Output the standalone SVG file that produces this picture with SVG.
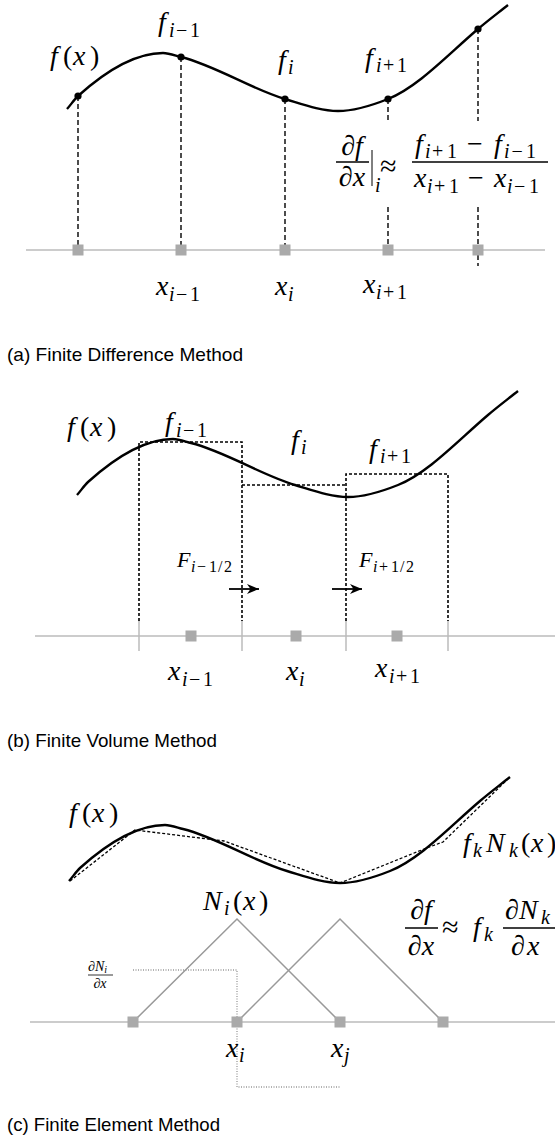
<svg xmlns="http://www.w3.org/2000/svg" xmlns:xlink="http://www.w3.org/1999/xlink" width="555" height="1139" viewBox="0 0 555 1139">
<style>
.m{font-family:"Liberation Serif","DejaVu Serif",serif;font-size:28px;fill:#000}
.it{font-style:italic}
.s{font-size:20px}
.cap{font-family:"Liberation Sans","DejaVu Sans",sans-serif;font-size:19px;fill:#000}
.curve{fill:none;stroke:#000;stroke-width:2.4;stroke-linejoin:round}
.axis{stroke:#bbb;stroke-width:1.5}
.node{fill:#aaa}
.dash{stroke:#000;stroke-width:1.4;stroke-dasharray:5 3;fill:none}
.dot{stroke:#000;stroke-width:1.6;stroke-dasharray:3 2;fill:none}
.pl{stroke:#000;stroke-width:1.3;stroke-dasharray:3 2;fill:none}
.tick{stroke:#bbb;stroke-width:1.5}
.tri{stroke:#999;stroke-width:1.5;fill:none}
.gdot{stroke:#999;stroke-width:1.3;stroke-dasharray:1 1.5;fill:none}
.bar{stroke:#000;stroke-width:1.3}
.arr{stroke:#000;stroke-width:1.8;fill:none}
</style>
<defs>
<path id="fcurve" d="M67,109 C70.7,105 74.3,99.3 78,96 C106.3,70.5 134.7,53 163,53 C169,53 175,55.5 181,57 C215.7,65.7 250.3,88.6 285,99 C302.7,104.3 320.3,111 338,111 C354.7,111 371.3,105.7 388,99 C418,87 448,54.5 478,29 C488,20.5 498,13 508,5"/>
<marker id="ah" markerWidth="13" markerHeight="11" refX="12" refY="5.5" orient="auto" markerUnits="userSpaceOnUse">
<path d="M0,0.5 L12,5.5 L0,10.5 L3.5,5.5 Z" fill="#000"/>
</marker>
<rect id="sq" x="-5.5" y="-5.5" width="11" height="11" class="node"/>
</defs>

<!-- Panel (a) -->
<g id="panel-a">
<line id="a-axis" x1="26" y1="250" x2="545" y2="250" class="axis"/>
<g id="a-connectors">
<line x1="78" y1="96" x2="78" y2="250" class="dash"/>
<line x1="181" y1="57" x2="181" y2="250" class="dash"/>
<line x1="285" y1="99" x2="285" y2="250" class="dash"/>
<line x1="388" y1="99" x2="388" y2="121" class="dash"/>
<line x1="388" y1="207" x2="388" y2="250" class="dash"/>
<line x1="478" y1="29" x2="478" y2="121" class="dash"/>
<line x1="478" y1="207" x2="478" y2="266" class="dash"/>
</g>
<g id="a-nodes">
<use xlink:href="#sq" x="78" y="250"/>
<use xlink:href="#sq" x="181" y="250"/>
<use xlink:href="#sq" x="285" y="250"/>
<use xlink:href="#sq" x="388" y="250"/>
<use xlink:href="#sq" x="478" y="250"/>
</g>
<use id="a-curve" xlink:href="#fcurve" class="curve"/>
<g id="a-points">
<circle cx="78" cy="96" r="3.6"/>
<circle cx="181" cy="57" r="3.6"/>
<circle cx="285" cy="99" r="3.6"/>
<circle cx="388" cy="99" r="3.6"/>
<circle cx="478" cy="29" r="3.6"/>
</g>
<g id="a-labels" class="m">
<text><tspan class="it" x="50" y="65">f</tspan><tspan x="63" y="65">(</tspan><tspan class="it" x="73" y="65">x</tspan><tspan x="90" y="65">)</tspan></text>
<text><tspan class="it" x="158" y="31">f</tspan><tspan class="s it" x="169" y="37">i</tspan><tspan class="s" x="176" y="37">−</tspan><tspan class="s" x="190" y="37">1</tspan></text>
<text><tspan class="it" x="278" y="69">f</tspan><tspan class="s it" x="288" y="74">i</tspan></text>
<text><tspan class="it" x="365" y="67">f</tspan><tspan class="s it" x="376" y="72">i</tspan><tspan class="s" x="383" y="72">+</tspan><tspan class="s" x="397" y="72">1</tspan></text>
<text><tspan class="it" x="156" y="295">x</tspan><tspan class="s it" x="169" y="301">i</tspan><tspan class="s" x="176" y="301">−</tspan><tspan class="s" x="190" y="301">1</tspan></text>
<text><tspan class="it" x="275" y="295">x</tspan><tspan class="s it" x="288" y="301">i</tspan></text>
<text><tspan class="it" x="363" y="293">x</tspan><tspan class="s it" x="376" y="299">i</tspan><tspan class="s" x="383" y="299">+</tspan><tspan class="s" x="397" y="299">1</tspan></text>
</g>
<g id="a-formula" class="m">
<text x="352" y="155" text-anchor="middle">∂<tspan class="it">f</tspan></text>
<line x1="336" y1="162" x2="369" y2="162" class="bar"/>
<text x="352" y="186" text-anchor="middle">∂<tspan class="it">x</tspan></text>
<line x1="372" y1="150" x2="372" y2="186" stroke="#000" stroke-width="1"/>
<text class="s it" x="375" y="192">i</text>
<text x="380" y="176" style="font-size:30px">≈</text>
<text><tspan class="it" x="415" y="153">f</tspan><tspan class="s it" x="425" y="158">i</tspan><tspan class="s" x="432" y="158">+</tspan><tspan class="s" x="447" y="158">1</tspan><tspan x="467" y="153">−</tspan><tspan class="it" x="494" y="153">f</tspan><tspan class="s it" x="504" y="158">i</tspan><tspan class="s" x="511.5" y="158">−</tspan><tspan class="s" x="526" y="158">1</tspan></text>
<line x1="412" y1="162" x2="548" y2="162" class="bar"/>
<text><tspan class="it" x="414" y="187">x</tspan><tspan class="s it" x="427" y="193">i</tspan><tspan class="s" x="434" y="193">+</tspan><tspan class="s" x="449" y="193">1</tspan><tspan x="468" y="187">−</tspan><tspan class="it" x="494" y="187">x</tspan><tspan class="s it" x="507" y="193">i</tspan><tspan class="s" x="514" y="193">−</tspan><tspan class="s" x="529" y="193">1</tspan></text>
</g>
<text id="a-caption" class="cap" x="7" y="361" textLength="236" lengthAdjust="spacingAndGlyphs">(a) Finite Difference Method</text>
</g>

<!-- Panel (b) -->
<g id="panel-b">
<line id="b-axis" x1="35" y1="636" x2="555" y2="636" class="axis"/>
<g id="b-ticks">
<line x1="139" y1="620" x2="139" y2="651" class="tick"/>
<line x1="242" y1="620" x2="242" y2="651" class="tick"/>
<line x1="346" y1="620" x2="346" y2="651" class="tick"/>
<line x1="448" y1="620" x2="448" y2="651" class="tick"/>
</g>
<g id="b-connectors">
<path d="M139,621 V442 H242 V621 M242,485 H346 M346,621 V474 H448 V621" class="dot"/>
<line x1="229" y1="589" x2="259" y2="589" class="arr" marker-end="url(#ah)"/>
<line x1="332" y1="589" x2="362" y2="589" class="arr" marker-end="url(#ah)"/>
</g>
<g id="b-nodes">
<use xlink:href="#sq" x="191" y="636"/>
<use xlink:href="#sq" x="296" y="636"/>
<use xlink:href="#sq" x="397" y="636"/>
</g>
<use id="b-curve" xlink:href="#fcurve" class="curve" transform="translate(10,386)"/>
<g id="b-labels" class="m">
<text><tspan class="it" x="67" y="436">f</tspan><tspan x="80" y="436">(</tspan><tspan class="it" x="90" y="436">x</tspan><tspan x="107" y="436">)</tspan></text>
<text><tspan class="it" x="165" y="431">f</tspan><tspan class="s it" x="176" y="437">i</tspan><tspan class="s" x="183" y="437">−</tspan><tspan class="s" x="197" y="437">1</tspan></text>
<text><tspan class="it" x="291" y="449">f</tspan><tspan class="s it" x="301" y="454">i</tspan></text>
<text><tspan class="it" x="369" y="458">f</tspan><tspan class="s it" x="380" y="463">i</tspan><tspan class="s" x="387" y="463">+</tspan><tspan class="s" x="401" y="463">1</tspan></text>
<text style="font-size:22px"><tspan class="it" x="177" y="567">F</tspan><tspan class="it" style="font-size:16px" x="191" y="572">i</tspan><tspan style="font-size:16px" x="197" y="572">−</tspan><tspan style="font-size:16px" x="209" y="572">1</tspan><tspan style="font-size:16px" x="218" y="572">/</tspan><tspan style="font-size:16px" x="224" y="572">2</tspan></text>
<text style="font-size:22px"><tspan class="it" x="359" y="567">F</tspan><tspan class="it" style="font-size:16px" x="373" y="572">i</tspan><tspan style="font-size:16px" x="379" y="572">+</tspan><tspan style="font-size:16px" x="391" y="572">1</tspan><tspan style="font-size:16px" x="400" y="572">/</tspan><tspan style="font-size:16px" x="406" y="572">2</tspan></text>
<text><tspan class="it" x="168" y="680">x</tspan><tspan class="s it" x="182" y="686">i</tspan><tspan class="s" x="189" y="686">−</tspan><tspan class="s" x="203" y="686">1</tspan></text>
<text><tspan class="it" x="286" y="680">x</tspan><tspan class="s it" x="299" y="686">i</tspan></text>
<text><tspan class="it" x="375" y="677">x</tspan><tspan class="s it" x="389" y="683">i</tspan><tspan class="s" x="396" y="683">+</tspan><tspan class="s" x="410" y="683">1</tspan></text>
</g>
<text id="b-caption" class="cap" x="7" y="747" textLength="210" lengthAdjust="spacingAndGlyphs">(b) Finite Volume Method</text>
</g>

<!-- Panel (c) -->
<g id="panel-c">
<line id="c-axis" x1="30" y1="1022" x2="555" y2="1022" class="axis"/>
<g id="c-connectors">
<path d="M133,1022 L237,919 L340,1022" class="tri"/>
<path d="M237,1022 L340,919 L443,1022" class="tri"/>
<path d="M133,970 H237 V1087 H340" class="gdot"/>
</g>
<g id="c-nodes">
<use xlink:href="#sq" x="133" y="1022"/>
<use xlink:href="#sq" x="237" y="1022"/>
<use xlink:href="#sq" x="340" y="1022"/>
<use xlink:href="#sq" x="443" y="1022"/>
</g>
<use id="c-curve" xlink:href="#fcurve" class="curve" transform="translate(2,772)"/>
<polyline id="c-interp" points="70,881 135,830 224,841 340,883 424,849 443,842 510,777" class="pl"/>
<g id="c-labels" class="m">
<text><tspan class="it" x="69" y="822">f</tspan><tspan x="82" y="822">(</tspan><tspan class="it" x="92" y="822">x</tspan><tspan x="109" y="822">)</tspan></text>
<text><tspan class="it" x="463" y="852">f</tspan><tspan class="s it" x="473" y="857">k</tspan><tspan class="it" x="486" y="852">N</tspan><tspan class="s it" x="509" y="857">k</tspan><tspan x="521" y="852">(</tspan><tspan class="it" x="531" y="852">x</tspan><tspan x="547" y="852">)</tspan></text>
<text><tspan class="it" x="203" y="910">N</tspan><tspan class="s it" x="224" y="915">i</tspan><tspan x="233" y="910">(</tspan><tspan class="it" x="243" y="910">x</tspan><tspan x="259" y="910">)</tspan></text>
<text style="font-size:14px" x="88" y="971">∂<tspan class="it">N</tspan><tspan class="it" style="font-size:10px" dy="2">i</tspan></text>
<line x1="88" y1="975" x2="113" y2="975" stroke="#000" stroke-width="0.8"/>
<text style="font-size:14px" x="100" y="988" text-anchor="middle">∂<tspan class="it">x</tspan></text>
<text x="421" y="919" text-anchor="middle">∂<tspan class="it">f</tspan></text>
<line x1="405" y1="928" x2="438" y2="928" class="bar"/>
<text x="421" y="955" text-anchor="middle">∂<tspan class="it">x</tspan></text>
<text x="442" y="937" style="font-size:30px">≈</text>
<text><tspan class="it" x="473" y="936">f</tspan><tspan class="s it" x="484" y="941">k</tspan></text>
<text><tspan x="505" y="919">∂</tspan><tspan class="it" x="519" y="919">N</tspan><tspan class="s it" x="541" y="924">k</tspan></text>
<line x1="503" y1="928" x2="560" y2="928" class="bar"/>
<text><tspan x="511" y="955">∂</tspan><tspan class="it" x="527" y="955">x</tspan></text>
<text><tspan class="it" x="226" y="1057">x</tspan><tspan class="s it" x="239" y="1062">i</tspan></text>
<text><tspan class="it" x="331" y="1057">x</tspan><tspan class="s it" x="344" y="1062">j</tspan></text>
</g>
<text id="c-caption" class="cap" x="7" y="1131" textLength="213" lengthAdjust="spacingAndGlyphs">(c) Finite Element Method</text>
</g>
</svg>
